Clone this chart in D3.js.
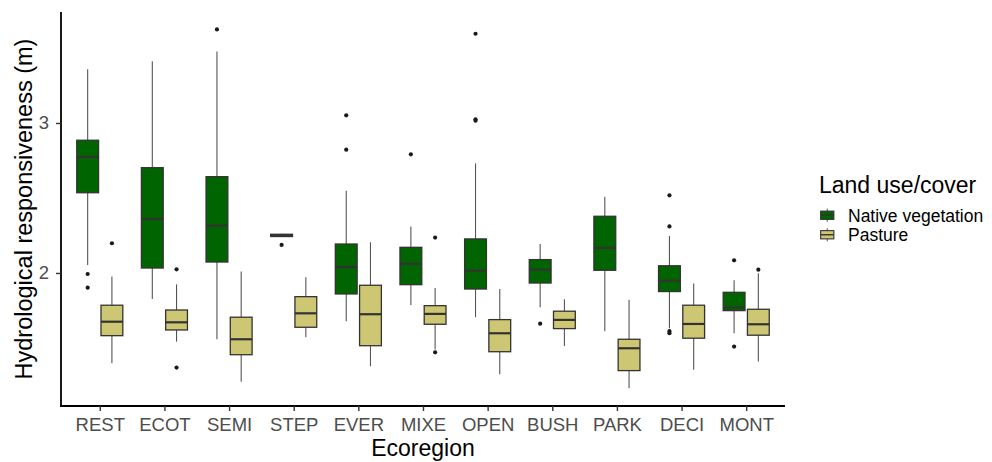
<!DOCTYPE html>
<html>
<head>
<meta charset="utf-8">
<script src="https://cdn.jsdelivr.net/npm/d3@7"></script>
<style>
  html, body { margin: 0; padding: 0; background: #fff; }
  svg { display: block; font-family: Arial, "Liberation Sans", sans-serif; }
</style>
</head>
<body>
<svg id="chart" width="992" height="462"></svg>
<script>
// Ecoregions on the x axis
const ecoregions = ["REST", "ECOT", "SEMI", "STEP", "EVER", "MIXE", "OPEN", "BUSH", "PARK", "DECI", "MONT"];
// Land use / cover groups
const groups = ["Native vegetation", "Pasture"];
const groupColors = ["#006400", "#cdc673"];

// Box statistics per ecoregion: [lower whisker, Q1, median, Q3, upper whisker]
const nativeStats = [
  [2.053, 2.535, 2.773, 2.885, 3.358],
  [1.827, 2.033, 2.360, 2.702, 3.411],
  [1.558, 2.073, 2.316, 2.642, 3.476],
  [2.240, 2.243, 2.250, 2.258, 2.262],
  [1.678, 1.860, 2.040, 2.193, 2.549],
  [1.787, 1.922, 2.062, 2.171, 2.309],
  [1.705, 1.893, 2.016, 2.227, 2.731],
  [1.771, 1.933, 2.022, 2.089, 2.193],
  [1.611, 2.018, 2.167, 2.378, 2.509],
  [1.631, 1.876, 1.948, 2.048, 2.247],
  [1.598, 1.749, 1.769, 1.871, 1.951]
];
const nativeOutliers = [
  [1.993, 1.902],
  [],
  [3.624],
  [2.187],
  [3.051, 2.822],
  [2.791],
  [3.595, 3.025, 3.015],
  [1.662],
  [],
  [2.518, 2.310, 1.612, 1.598],
  [2.084, 1.509]
];
const pastureStats = [
  [1.398, 1.582, 1.675, 1.785, 1.976],
  [1.542, 1.620, 1.671, 1.753, 1.924],
  [1.275, 1.455, 1.558, 1.705, 2.009],
  [1.571, 1.638, 1.731, 1.842, 1.971],
  [1.378, 1.515, 1.725, 1.918, 2.205],
  [1.490, 1.658, 1.727, 1.782, 1.900],
  [1.325, 1.475, 1.598, 1.689, 1.893],
  [1.513, 1.629, 1.687, 1.745, 1.825],
  [1.231, 1.349, 1.498, 1.558, 1.822],
  [1.355, 1.565, 1.660, 1.785, 1.929],
  [1.409, 1.585, 1.658, 1.758, 1.998]
];
const pastureOutliers = [
  [2.198],
  [2.024, 1.369],
  [],
  [],
  [],
  [2.236, 1.471],
  [],
  [],
  [],
  [],
  [2.022]
];
const yTicks = [2, 3];

const svg = d3.select("#chart");
const plot = { left: 61, right: 785, top: 12, bottom: 406 };

const x = d3.scalePoint().domain(ecoregions).range([plot.left, plot.right]).padding(0.6);
const y = d3.scaleLinear().domain([1.113, 3.74]).range([plot.bottom, plot.top]);

const step = x.step();
const boxW = step * 0.3375;
const offset = step * 0.1875;

const series = [
  { name: groups[0], color: groupColors[0], stats: nativeStats, outliers: nativeOutliers, dx: -offset },
  { name: groups[1], color: groupColors[1], stats: pastureStats, outliers: pastureOutliers, dx: offset }
];

const g = svg.append("g");

series.forEach(s => {
  ecoregions.forEach((eco, i) => {
    const [lo, q1, med, q3, hi] = s.stats[i];
    const cx = x(eco) + s.dx;
    const bg = g.append("g");
    // whiskers
    bg.append("line").attr("x1", cx).attr("x2", cx).attr("y1", y(q3)).attr("y2", y(hi))
      .attr("stroke", "#555").attr("stroke-width", 1.1);
    bg.append("line").attr("x1", cx).attr("x2", cx).attr("y1", y(q1)).attr("y2", y(lo))
      .attr("stroke", "#555").attr("stroke-width", 1.1);
    // box
    bg.append("rect").attr("x", cx - boxW / 2).attr("width", boxW)
      .attr("y", y(q3)).attr("height", Math.max(y(q1) - y(q3), 0.5))
      .attr("fill", s.color).attr("stroke", "#333").attr("stroke-width", 1.3);
    // median
    bg.append("line").attr("x1", cx - boxW / 2).attr("x2", cx + boxW / 2)
      .attr("y1", y(med)).attr("y2", y(med))
      .attr("stroke", "#333").attr("stroke-width", 2.2);
    // outliers
    s.outliers[i].forEach(v => {
      bg.append("circle").attr("cx", cx).attr("cy", y(v)).attr("r", 2.1).attr("fill", "#1a1a1a");
    });
  });
});

// Axes
const xAxis = svg.append("g").attr("transform", `translate(0,${plot.bottom})`)
  .call(d3.axisBottom(x).tickSize(5).tickPadding(7));
xAxis.select(".domain").attr("d", `M${plot.left - 1},0H${plot.right}`).attr("stroke", "#000").attr("stroke-width", 1.8);
xAxis.selectAll(".tick line").attr("stroke", "#333").attr("stroke-width", 1.4);
xAxis.selectAll(".tick text").attr("fill", "#4d4d4d").attr("font-size", 18.5)
  .attr("font-family", "Arial, 'Liberation Sans', sans-serif");

const yAxis = svg.append("g").attr("transform", `translate(${plot.left},0)`)
  .call(d3.axisLeft(y).tickValues(yTicks).tickFormat(d3.format("d")).tickSize(5).tickPadding(7));
yAxis.select(".domain").attr("d", `M0,${plot.top}V${plot.bottom + 1}`).attr("stroke", "#000").attr("stroke-width", 1.8);
yAxis.selectAll(".tick line").attr("stroke", "#333").attr("stroke-width", 1.4);
yAxis.selectAll(".tick text").attr("fill", "#4d4d4d").attr("font-size", 18.5)
  .attr("font-family", "Arial, 'Liberation Sans', sans-serif");

// Axis titles
svg.append("text").attr("x", (plot.left + plot.right) / 2).attr("y", 456)
  .attr("text-anchor", "middle").attr("font-size", 23).attr("fill", "#000")
  .text("Ecoregion");
svg.append("text").attr("transform", `translate(32,${(plot.top + plot.bottom) / 2}) rotate(-90)`)
  .attr("text-anchor", "middle").attr("font-size", 23.5).attr("fill", "#000")
  .text("Hydrological responsiveness (m)");

// Legend
const lg = svg.append("g").attr("transform", "translate(819,0)");
lg.append("text").attr("x", 0).attr("y", 193).attr("font-size", 23).attr("fill", "#000").text("Land use/cover");
const keySize = 16.5;
const rowGap = 19.5;
groups.forEach((name, i) => {
  const ky = 207 + i * rowGap;
  const k = lg.append("g").attr("transform", `translate(0,${ky})`);
  k.append("line").attr("x1", keySize / 2).attr("x2", keySize / 2).attr("y1", keySize * 0.1).attr("y2", keySize * 0.9)
    .attr("stroke", "#555").attr("stroke-width", 1);
  k.append("rect").attr("x", keySize * 0.1).attr("y", keySize * 0.25)
    .attr("width", keySize * 0.8).attr("height", keySize * 0.5)
    .attr("fill", groupColors[i]).attr("stroke", "#333").attr("stroke-width", 1.1);
  k.append("line").attr("x1", keySize * 0.1).attr("x2", keySize * 0.9).attr("y1", keySize / 2).attr("y2", keySize / 2)
    .attr("stroke", "#333").attr("stroke-width", 1.4);
  lg.append("text").attr("x", 29).attr("y", ky + keySize / 2 + 6.5).attr("font-size", 17.5).attr("fill", "#000").text(name);
});
</script>
</body>
</html>
